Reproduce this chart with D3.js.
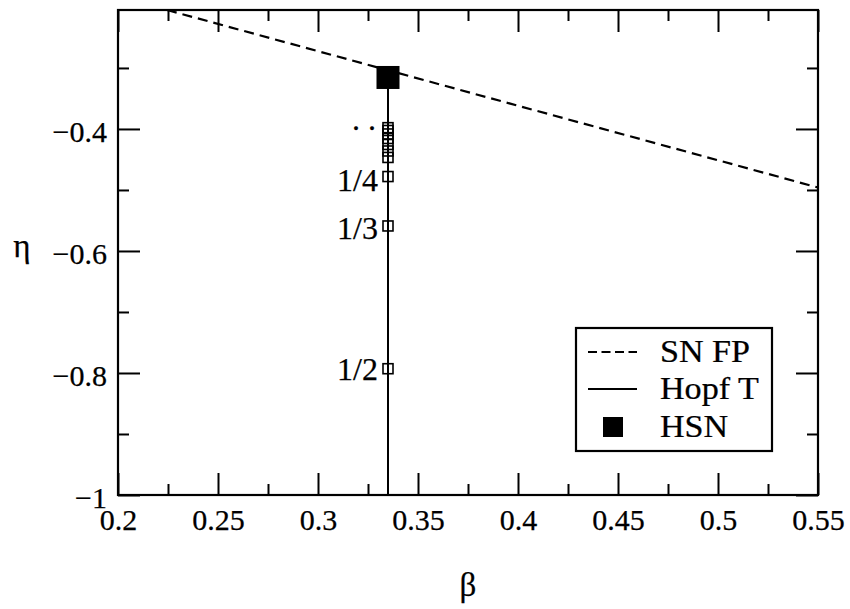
<!DOCTYPE html>
<html>
<head>
<meta charset="utf-8">
<script src="https://cdn.jsdelivr.net/npm/d3@7"></script>
<style>
  html, body { margin: 0; padding: 0; background: #fff; }
  svg { display: block; }
  text { font-family: "Liberation Serif", "Times New Roman", serif; fill: #000; stroke: #000; stroke-width: 0.25px; }
</style>
</head>
<body>
<svg id="chart" width="850" height="609"></svg>
<script>
// Axis ticks
const betaMajor = [0.2, 0.25, 0.3, 0.35, 0.4, 0.45, 0.5, 0.55];
const betaMinor = [0.225, 0.275, 0.325, 0.375, 0.425, 0.475, 0.525];
const etaMajor = [-1, -0.8, -0.6, -0.4];
const etaMinor = [-0.9, -0.7, -0.5, -0.3];

// Saddle-node of fixed points (dashed)
const snBeta = [0.2245, 0.55];
const snEta = [-0.205, -0.496];

// Hopf of the torus (solid, vertical)
const hopfBeta = [0.335, 0.335];
const hopfEta = [-0.3156, -1];

// Hopf–saddle-node point
const hsnBeta = [0.335];
const hsnEta = [-0.3156];

// Resonance tongue tips on the Hopf line
const tipBeta = [0.335, 0.335, 0.335, 0.335, 0.335, 0.335, 0.335, 0.335, 0.335, 0.335];
const tipEta = [-0.793, -0.559, -0.478, -0.4467, -0.4361, -0.4254, -0.4156, -0.4082, -0.4025, -0.3979];
const tipLabels = ["1/2", "1/3", "1/4"];

const legendLabels = ["SN FP", "Hopf T", "HSN"];

const svg = d3.select("#chart");
const L = 118, R = 818, T = 10, B = 495;
const x = d3.scaleLinear().domain([0.2, 0.55]).range([L, R]);
const y = d3.scaleLinear().domain([-1, -0.205]).range([B, T]);
const fmt = d3.format("~g");
const FONT = 30;

function styleAxis(g) {
  g.attr("font-family", null);
  g.select(".domain").remove();
  g.selectAll(".tick line").attr("stroke", "#000").attr("stroke-width", 2);
  g.selectAll(".tick text").attr("font-size", FONT);
}

// bottom axis (labels) + minor
svg.append("g").attr("transform", `translate(0,${B})`)
  .call(d3.axisBottom(x).tickValues(betaMajor).tickSize(-22).tickPadding(14).tickFormat(fmt))
  .call(styleAxis);
svg.append("g").attr("transform", `translate(0,${B})`)
  .call(d3.axisBottom(x).tickValues(betaMinor).tickSize(-11).tickFormat(""))
  .call(styleAxis);
// top axis ticks
svg.append("g").attr("transform", `translate(0,${T})`)
  .call(d3.axisTop(x).tickValues(betaMajor).tickSize(-22).tickFormat(""))
  .call(styleAxis);
svg.append("g").attr("transform", `translate(0,${T})`)
  .call(d3.axisTop(x).tickValues(betaMinor).tickSize(-11).tickFormat(""))
  .call(styleAxis);
// left axis
svg.append("g").attr("transform", `translate(${L},0)`)
  .call(d3.axisLeft(y).tickValues(etaMajor).tickSize(-22).tickPadding(11).tickFormat(fmt))
  .call(styleAxis)
  .call(g => g.selectAll(".tick text").attr("dy", "0.42em"));
svg.append("g").attr("transform", `translate(${L},0)`)
  .call(d3.axisLeft(y).tickValues(etaMinor).tickSize(-11).tickFormat(""))
  .call(styleAxis);
// right axis
svg.append("g").attr("transform", `translate(${R},0)`)
  .call(d3.axisRight(y).tickValues(etaMajor).tickSize(-22).tickFormat(""))
  .call(styleAxis);
svg.append("g").attr("transform", `translate(${R},0)`)
  .call(d3.axisRight(y).tickValues(etaMinor).tickSize(-11).tickFormat(""))
  .call(styleAxis);

// frame
svg.append("rect").attr("x", L).attr("y", T).attr("width", R - L).attr("height", B - T)
  .attr("fill", "none").attr("stroke", "#000").attr("stroke-width", 2.2);

const line = d3.line().x(d => x(d[0])).y(d => y(d[1]));

// SN FP dashed curve
svg.append("path").datum(d3.zip(snBeta, snEta)).attr("d", line)
  .attr("fill", "none").attr("stroke", "#000").attr("stroke-width", 2.2)
  .attr("stroke-dasharray", "10,6");

// Hopf T line
svg.append("path").datum(d3.zip(hopfBeta, hopfEta)).attr("d", line)
  .attr("fill", "none").attr("stroke", "#000").attr("stroke-width", 2);

// tongue tips: open squares
const s = 10;
svg.append("g").selectAll("rect").data(d3.zip(tipBeta, tipEta)).join("rect")
  .attr("x", d => x(d[0]) - s / 2).attr("y", d => y(d[1]) - s / 2)
  .attr("width", s).attr("height", s)
  .attr("fill", "none").attr("stroke", "#000").attr("stroke-width", 1.6);

// tongue labels
const labelDy = [11, 13, 14];
svg.append("g").selectAll("text").data(tipLabels).join("text")
  .attr("x", (d, i) => x(tipBeta[i]) - 10)
  .attr("y", (d, i) => y(tipEta[i]) + labelDy[i])
  .attr("text-anchor", "end").attr("font-size", 32)
  .text(d => d);

// accumulation dots
svg.append("text")
  .attr("x", x(tipBeta[9]) - 12).attr("y", y(tipEta[9]) + 2)
  .attr("text-anchor", "end").attr("font-size", 32)
  .text(". .");

// HSN filled square
const hs = 23;
svg.append("g").selectAll("rect").data(d3.zip(hsnBeta, hsnEta)).join("rect")
  .attr("x", d => x(d[0]) - hs / 2).attr("y", d => y(d[1]) - hs / 2)
  .attr("width", hs).attr("height", hs).attr("fill", "#000");

// axis titles
svg.append("text").attr("x", 22).attr("y", 257)
  .attr("text-anchor", "middle").attr("font-size", 33).text("η");
svg.append("text").attr("x", (L + R) / 2).attr("y", 596)
  .attr("text-anchor", "middle").attr("font-size", 33).text("β");

// legend
const lg = svg.append("g").attr("transform", "translate(576,328)");
lg.append("rect").attr("width", 196).attr("height", 123)
  .attr("fill", "#fff").attr("stroke", "#000").attr("stroke-width", 2.2);
const rows = [24, 61, 99];
lg.append("line").attr("x1", 12).attr("x2", 61).attr("y1", rows[0]).attr("y2", rows[0])
  .attr("stroke", "#000").attr("stroke-width", 2).attr("stroke-dasharray", "9,4.5");
lg.append("line").attr("x1", 12).attr("x2", 61).attr("y1", rows[1]).attr("y2", rows[1])
  .attr("stroke", "#000").attr("stroke-width", 2);
lg.append("rect").attr("x", 27).attr("y", rows[2] - 10).attr("width", 20).attr("height", 20).attr("fill", "#000");
lg.selectAll("text.lab").data(legendLabels).join("text").attr("class", "lab")
  .attr("x", 84).attr("y", (d, i) => rows[i] + 10)
  .attr("font-size", 31)
  .attr("transform", "translate(84,0) scale(1.1,1) translate(-84,0)")
  .text(d => d);
</script>
</body>
</html>
